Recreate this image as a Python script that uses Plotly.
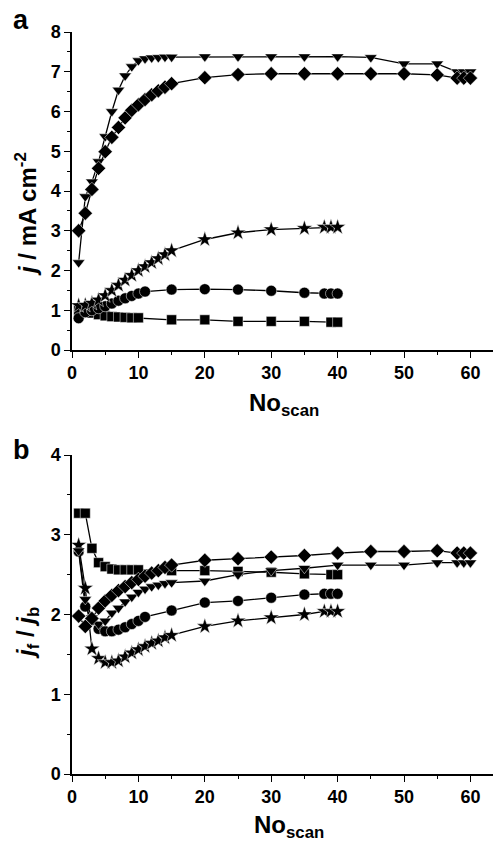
import plotly.graph_objects as go

W, H = 494, 841

# ---- panel a: current density vs scan number ----
xa_square = [1, 2, 3, 4, 5, 6, 7, 8, 9, 10, 15, 20, 25, 30, 35, 39, 40]
ya_square = [1.0, 0.97, 0.93, 0.89, 0.86, 0.84, 0.83, 0.82, 0.81, 0.81, 0.76, 0.76, 0.72, 0.72, 0.72, 0.70, 0.70]

xa_circle = [1, 2, 3, 4, 5, 6, 7, 8, 9, 10, 11, 15, 20, 25, 30, 35, 38, 39, 40]
ya_circle = [0.8, 0.95, 1.0, 1.05, 1.1, 1.17, 1.24, 1.3, 1.36, 1.42, 1.47, 1.52, 1.53, 1.52, 1.49, 1.44, 1.42, 1.42, 1.42]

xa_star = [1, 2, 3, 4, 5, 6, 7, 8, 9, 10, 11, 12, 13, 14, 15, 20, 25, 30, 35, 38, 39, 40]
ya_star = [1.12, 1.13, 1.18, 1.26, 1.37, 1.5, 1.63, 1.76, 1.88, 2.0, 2.1, 2.2, 2.3, 2.4, 2.5, 2.78, 2.95, 3.03, 3.06, 3.09, 3.09, 3.09]

xa_tri = [1, 2, 3, 4, 5, 6, 7, 8, 9, 10, 11, 12, 13, 14, 15, 20, 25, 30, 35, 40, 45, 50, 55, 58, 59, 60]
ya_tri = [2.2, 3.86, 4.23, 4.74, 5.37, 6.0, 6.54, 6.9, 7.13, 7.28, 7.33, 7.35, 7.36, 7.37, 7.37,
          7.38, 7.38, 7.38, 7.38, 7.38, 7.36, 7.2, 7.2, 7.0, 7.0, 7.0]

xa_dia = [1, 2, 3, 4, 5, 6, 7, 8, 9, 10, 11, 12, 13, 14, 15, 20, 25, 30, 35, 40, 45, 50, 55, 58, 59, 60]
ya_dia = [3.0, 3.44, 4.04, 4.57, 4.99, 5.35, 5.6, 5.84, 6.03, 6.17, 6.3, 6.42, 6.52, 6.61, 6.7,
          6.85, 6.93, 6.95, 6.95, 6.95, 6.95, 6.95, 6.92, 6.84, 6.84, 6.84]

# ---- panel b: forward/backward peak current ratio ----
xb_square = xa_square
yb_square = [3.27, 3.27, 2.83, 2.65, 2.6, 2.57, 2.56, 2.56, 2.56, 2.56, 2.55, 2.55, 2.54, 2.53, 2.51, 2.5, 2.5]

xb_circle = xa_circle
yb_circle = [2.79, 2.1, 1.93, 1.82, 1.79, 1.79, 1.81, 1.84, 1.88, 1.92, 1.97, 2.05, 2.15, 2.17, 2.21, 2.25, 2.26, 2.26, 2.26]

xb_star = xa_star
yb_star = [2.87, 2.33, 1.57, 1.45, 1.4, 1.4, 1.42, 1.47, 1.52, 1.56, 1.6, 1.64, 1.67, 1.71, 1.74,
           1.85, 1.92, 1.96, 2.0, 2.04, 2.04, 2.04]

xb_tri = xa_tri
yb_tri = [2.8, 2.19, 1.96, 1.88, 1.92, 2.02, 2.08, 2.16, 2.22, 2.28, 2.32, 2.35, 2.37, 2.39, 2.4,
          2.42, 2.5, 2.55, 2.58, 2.62, 2.62, 2.62, 2.65, 2.65, 2.65, 2.65]

xb_dia = xa_dia
yb_dia = [1.98, 1.85, 1.95, 2.08, 2.17, 2.24, 2.3, 2.35, 2.4, 2.44, 2.48, 2.52, 2.55, 2.59, 2.62,
          2.68, 2.7, 2.72, 2.74, 2.77, 2.79, 2.79, 2.8, 2.77, 2.77, 2.77]

x_ticks = [0, 10, 20, 30, 40, 50, 60]

FONT = "Liberation Sans, Arial, Helvetica, sans-serif"

series_a = [
    (xa_square, ya_square, "square", 10),
    (xa_circle, ya_circle, "circle", 11),
    (xa_star, ya_star, "star", 12),
    (xa_tri, ya_tri, "triangle-down", 11),
    (xa_dia, ya_dia, "diamond", 11),
]
series_b = [
    (xb_square, yb_square, "square", 10),
    (xb_circle, yb_circle, "circle", 11),
    (xb_star, yb_star, "star", 12),
    (xb_tri, yb_tri, "triangle-down", 11),
    (xb_dia, yb_dia, "diamond", 11),
]

fig = go.Figure()


def add_series(series, xref, yref):
    for xs, ys, sym, size in series:
        fig.add_trace(go.Scatter(
            x=xs, y=ys, mode="lines+markers",
            xaxis=xref, yaxis=yref,
            line=dict(color="black", width=1.3),
            marker=dict(symbol=sym, size=size, color="black",
                        line=dict(color="white", width=0.5)),
            showlegend=False, cliponaxis=False,
        ))


add_series(series_a, "x", "y")
add_series(series_b, "x2", "y2")


def px_x(p):
    return p / W


def px_y(p):
    return 1 - p / H


tick_font = dict(family=FONT, size=18, color="black", weight="bold")

common_x = dict(
    range=[0, 63.4], tickvals=x_ticks, ticks="outside", ticklen=6, tickwidth=1.3,
    tickcolor="black", showline=True, linecolor="black", linewidth=1.5,
    showgrid=False, zeroline=False, tickfont=tick_font, automargin=False,
    minor=dict(dtick=5, ticks="outside", ticklen=3, tickwidth=1.2, tickcolor="black", showgrid=False),
    domain=[px_x(72), px_x(493)],
)

fig.update_layout(
    width=W, height=H,
    margin=dict(l=0, r=0, t=0, b=0),
    paper_bgcolor="white", plot_bgcolor="white",
    xaxis=dict(common_x, anchor="y"),
    yaxis=dict(
        range=[0, 8], dtick=1, ticks="outside", ticklen=6, tickwidth=1.3, tickcolor="black",
        showline=True, linecolor="black", linewidth=1.5, showgrid=False, zeroline=False,
        tickfont=tick_font, automargin=False, anchor="x",
        minor=dict(dtick=0.5, ticks="outside", ticklen=3, tickwidth=1.2, tickcolor="black", showgrid=False),
        domain=[px_y(350), px_y(32)],
    ),
    xaxis2=dict(common_x, anchor="y2"),
    yaxis2=dict(
        range=[0, 4], dtick=1, ticks="outside", ticklen=6, tickwidth=1.3, tickcolor="black",
        showline=True, linecolor="black", linewidth=1.5, showgrid=False, zeroline=False,
        tickfont=tick_font, automargin=False, anchor="x2",
        minor=dict(dtick=0.5, ticks="outside", ticklen=3, tickwidth=1.2, tickcolor="black", showgrid=False),
        domain=[px_y(774), px_y(455)],
    ),
)

title_font = dict(family=FONT, size=24, color="black", weight="bold")
ann = []
# panel letters
ann.append(dict(text="a", x=px_x(21), y=px_y(20), showarrow=False,
                font=dict(family=FONT, size=27, color="black", weight="bold"),
                xanchor="center", yanchor="middle"))
ann.append(dict(text="b", x=px_x(21), y=px_y(450), showarrow=False,
                font=dict(family=FONT, size=27, color="black", weight="bold"),
                xanchor="center", yanchor="middle"))
# y titles
ann.append(dict(text="<i>j</i> / mA cm<sup>-2</sup>", x=px_x(26), y=px_y(214), showarrow=False,
                textangle=-90, font=title_font, xanchor="center", yanchor="middle"))
ann.append(dict(text="<i>j</i><sub>f</sub> / <i>j</i><sub>b</sub>", x=px_x(27), y=px_y(633),
                showarrow=False, textangle=-90, font=title_font, xanchor="center", yanchor="middle"))
# x titles
ann.append(dict(text="No<sub>scan</sub>", x=px_x(284), y=px_y(404), showarrow=False,
                font=title_font, xanchor="center", yanchor="middle"))
ann.append(dict(text="No<sub>scan</sub>", x=px_x(289), y=px_y(826), showarrow=False,
                font=title_font, xanchor="center", yanchor="middle"))

for a in ann:
    a["xref"] = "paper"
    a["yref"] = "paper"
fig.update_layout(annotations=ann)

fig.write_html("out.html")
